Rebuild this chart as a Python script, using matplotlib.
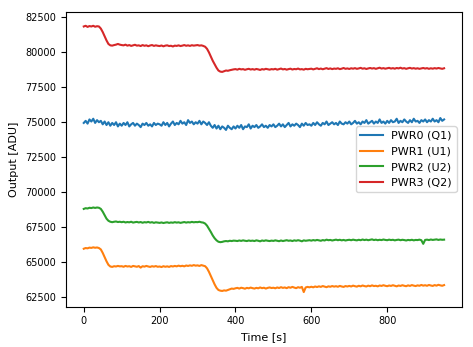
import numpy as np
import matplotlib
matplotlib.use("Agg")
import matplotlib.pyplot as plt

labels = ["PWR0 (Q1)", "PWR1 (U1)", "PWR2 (U2)", "PWR3 (Q2)"]

pwr0 = [74950, 75100, 74900, 75200, 75050, 75250, 74950, 75150, 75000,
        75100, 74850, 75050, 74800, 75000, 74750, 74950, 74800, 75000, 74700, 74900,
        74750, 74950, 74800, 75000, 74700, 74850, 74950, 74750, 74900, 74800, 74650, 74900, 74800, 74950, 74750, 74850, 74700, 74950, 74800, 74900,
        74850, 74750, 75000, 74800, 74950, 74700, 74900, 75050, 74800, 74950, 74850, 75100, 74900, 75000, 74800, 75150, 74950, 75050, 74850, 75000,
        74900, 75100, 74850, 75050, 74950, 74800, 75000, 74750, 74600, 74800, 74550, 74750, 74500, 74700, 74600, 74450, 74750, 74600, 74500, 74700,
        74550, 74750, 74600, 74800, 74500, 74700, 74650, 74850, 74550, 74750, 74650, 74800, 74600, 74700, 74850, 74650, 74750, 74600, 74800, 74700,
        74850, 74650, 74750, 74900, 74700, 74850, 74650, 74800, 74950, 74700, 74850, 74750, 74900, 74800, 74650, 74900, 74750, 74950, 74800, 74850,
        74750, 74950, 74800, 75000, 74850, 74750, 74950, 74850, 75050, 74800, 74900, 75000, 74850, 74950, 74800, 75050, 74900, 74850, 75000, 74900,
        75050, 74850, 74950, 75100, 74900, 75000, 74850, 75050, 74950, 75150, 74900, 75000, 75100, 74900, 75050, 74950, 75200, 74950, 75050, 74900,
        75100, 74950, 75150, 75000, 75050, 75250, 74950, 75100, 75000, 75200, 75050, 74950, 75150, 75000, 75250, 75050, 75100, 74950, 75150, 75050,
        75200, 75000, 75150, 75050, 75250, 75050, 75150, 75000, 75300, 75100, 75200]

pwr1 = [65950, 66000, 65980, 66030, 66010, 66050, 66020, 66040, 66000,
        65900, 65650, 65350, 65050, 64800, 64680, 64650, 64700, 64680, 64720, 64690,
        64700, 64660, 64720, 64680, 64700, 64650, 64720, 64690, 64660, 64710, 64600, 64700, 64670, 64720, 64680, 64650, 64700, 64670, 64710, 64660,
        64680, 64640, 64700, 64660, 64690, 64650, 64710, 64680, 64720, 64690, 64740, 64700, 64730, 64690, 64750, 64720, 64760, 64730, 64780, 64740,
        64760, 64720, 64780, 64740, 64700, 64550, 64300, 64000, 63700, 63400, 63150, 63000, 62950, 62930, 62970, 62950, 63000, 63050, 63100, 63080,
        63120, 63150, 63100, 63160, 63130, 63090, 63150, 63120, 63170, 63130, 63100, 63150, 63120, 63180, 63130, 63160, 63100, 63150, 63180, 63140,
        63160, 63120, 63180, 63140, 63200, 63150, 63180, 63130, 63200, 63160, 63220, 63170, 63130, 63200, 63160, 63220, 62850, 63180, 63220, 63190,
        63230, 63190, 63250, 63210, 63260, 63220, 63280, 63240, 63200, 63260, 63230, 63280, 63240, 63270, 63230, 63290, 63250, 63220, 63280, 63250,
        63290, 63250, 63310, 63270, 63240, 63300, 63260, 63320, 63280, 63250, 63310, 63270, 63330, 63280, 63300, 63260, 63320, 63290, 63340, 63300,
        63270, 63320, 63290, 63340, 63300, 63260, 63320, 63290, 63340, 63300, 63270, 63330, 63290, 63350, 63310, 63280, 63330, 63300, 63360, 63310,
        63340, 63300, 63360, 63320, 63290, 63350, 63310, 63370, 63330, 63300, 63350]

pwr2 = [68800, 68850, 68830, 68880, 68860, 68900, 68870, 68900, 68880,
        68800, 68600, 68350, 68100, 67950, 67880, 67850, 67880, 67900, 67860, 67880,
        67850, 67880, 67830, 67860, 67840, 67880, 67820, 67850, 67870, 67830, 67860, 67810, 67850, 67830, 67870, 67820, 67850, 67800, 67840, 67820,
        67800, 67830, 67790, 67820, 67840, 67800, 67830, 67810, 67850, 67820, 67840, 67800, 67830, 67860, 67820, 67850, 67830, 67870, 67840, 67860,
        67850, 67880, 67840, 67820, 67750, 67600, 67380, 67150, 66900, 66700, 66550, 66450, 66420, 66440, 66480, 66500, 66480, 66520, 66500, 66530,
        66520, 66500, 66540, 66510, 66550, 66520, 66500, 66540, 66510, 66530, 66500, 66550, 66520, 66480, 66540, 66510, 66550, 66520, 66500, 66530,
        66510, 66550, 66520, 66490, 66540, 66500, 66530, 66560, 66520, 66540, 66500, 66550, 66520, 66560, 66530, 66480, 66550, 66520, 66540, 66560,
        66530, 66570, 66540, 66580, 66550, 66520, 66570, 66540, 66600, 66560, 66580, 66540, 66570, 66600, 66560, 66590, 66550, 66580, 66540, 66570,
        66590, 66560, 66600, 66570, 66550, 66590, 66560, 66610, 66570, 66600, 66560, 66590, 66620, 66570, 66600, 66560, 66590, 66570, 66610, 66580,
        66560, 66600, 66570, 66590, 66550, 66580, 66600, 66560, 66590, 66570, 66540, 66580, 66560, 66590, 66550, 66580, 66570, 66600, 66560, 66300,
        66580, 66600, 66570, 66610, 66580, 66600, 66620, 66580, 66610, 66590, 66600]

pwr3 = [81850, 81900, 81820, 81880, 81850, 81900, 81830, 81870, 81850,
        81700, 81450, 81150, 80850, 80600, 80500, 80480, 80520, 80550, 80600, 80550,
        80520, 80500, 80550, 80480, 80520, 80460, 80500, 80540, 80480, 80500, 80450, 80520, 80470, 80500, 80440, 80490, 80520, 80460, 80500, 80470,
        80450, 80490, 80430, 80480, 80500, 80450, 80470, 80420, 80480, 80460, 80500, 80450, 80480, 80520, 80470, 80500, 80460, 80510, 80480, 80500,
        80520, 80480, 80500, 80460, 80400, 80250, 80000, 79700, 79400, 79150, 78900, 78700, 78620, 78600, 78650, 78700, 78680, 78720, 78750, 78780,
        78800, 78760, 78820, 78780, 78800, 78750, 78790, 78820, 78770, 78800, 78760, 78810, 78780, 78740, 78800, 78770, 78820, 78790, 78760, 78800,
        78780, 78820, 78760, 78800, 78840, 78780, 78810, 78760, 78800, 78830, 78770, 78810, 78790, 78840, 78780, 78800, 78760, 78820, 78790, 78810,
        78830, 78780, 78820, 78860, 78800, 78840, 78790, 78830, 78870, 78810, 78850, 78800, 78840, 78820, 78860, 78800, 78830, 78880, 78820, 78850,
        78810, 78860, 78830, 78870, 78820, 78850, 78890, 78830, 78860, 78810, 78850, 78880, 78840, 78870, 78820, 78860, 78900, 78840, 78870, 78830,
        78860, 78890, 78840, 78870, 78830, 78880, 78850, 78900, 78840, 78870, 78820, 78860, 78890, 78840, 78870, 78830, 78860, 78820, 78850, 78880,
        78840, 78870, 78820, 78860, 78830, 78870, 78840, 78880, 78850, 78820, 78860]

series = [pwr0, pwr1, pwr2, pwr3]
colors = ["#1f77b4", "#ff7f0e", "#2ca02c", "#d62728"]

fig = plt.figure(figsize=(4.73, 3.47), dpi=100)
ax = fig.add_axes([0.139, 0.116, 0.838, 0.850])
for vals, lab, c in zip(series, labels, colors):
    t = np.arange(len(vals)) * 5
    ax.plot(t, vals, color=c, label=lab, lw=1.5)

ax.set_xlabel("Time [s]", fontsize=8)
ax.set_ylabel("Output [ADU]", fontsize=8)
ax.set_xlim(-47.5, 997.5)
ax.set_ylim(61800, 82900)
ax.set_xticks([0, 200, 400, 600, 800])
ax.set_yticks([62500, 65000, 67500, 70000, 72500, 75000, 77500, 80000, 82500])
ax.tick_params(labelsize=7)
ax.legend(loc="center right", fontsize=8)
fig.savefig("out.png", dpi=100)
